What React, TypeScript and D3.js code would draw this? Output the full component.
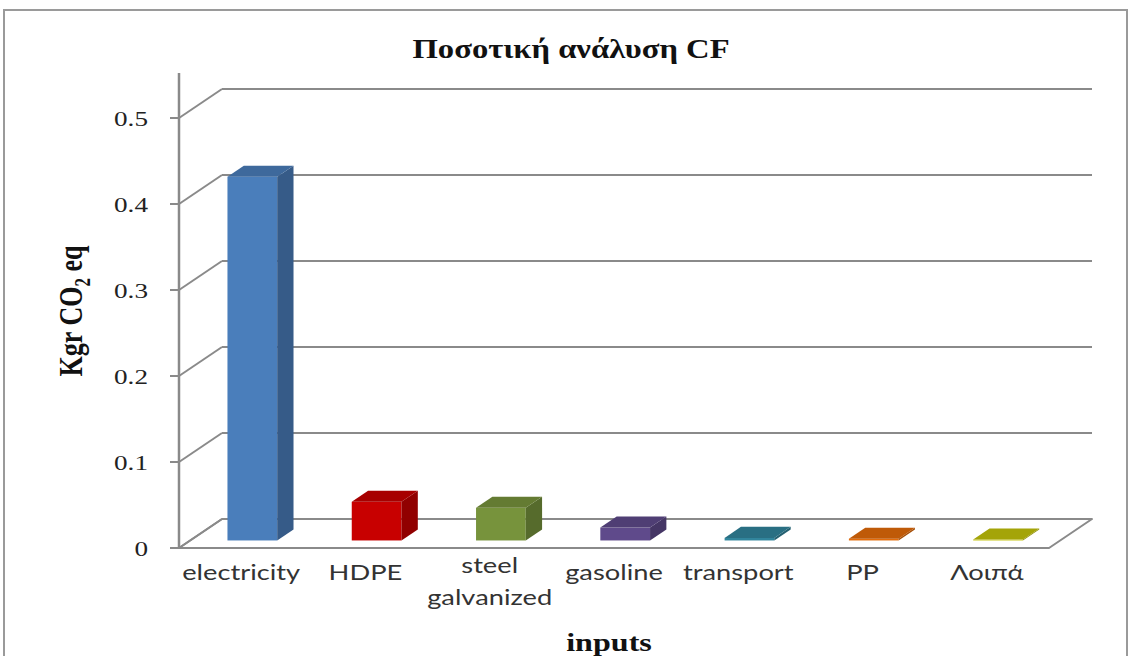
import React from "react";
import * as d3 from "d3";

const categories = ["electricity", "HDPE", "steel\ngalvanized", "gasoline", "transport", "PP", "Λοιπά"];
const values = [0.423, 0.045, 0.038, 0.015, 0.003, 0.002, 0.001];
const colors = ["#4a7ebb", "#c80000", "#77933c", "#5f4a8b", "#31859c", "#e46c0a", "#c4c40a"];
const yTicks = [0, 0.1, 0.2, 0.3, 0.4, 0.5];
const title = "Ποσοτική ανάλυση CF";
const xTitle = "inputs";

const W = 1131, H = 656;
const SX = 1.3; // horizontal text stretch of the reference
const X0 = 179, X1 = 1049;
const FX = 43, FY = -29; // floor depth vector
const T0 = 0.26, T1 = 0.64;
const GRID = "#8a8a8a";

export default function App() {
  const y = d3.scaleLinear().domain([0, 0.5]).range([548, 118]);
  const x = d3.scaleBand<string>().domain(categories).range([X0, X1]).paddingInner(0.6).paddingOuter(0.3);
  const bw = x.bandwidth();
  const ddx = (T1 - T0) * FX, ddy = (T1 - T0) * FY;
  const serif = "'Liberation Serif', 'Times New Roman', serif";
  const sans = "Lato, 'Open Sans', sans-serif";
  return (
    <svg width={W} height={H} style={{ position: "absolute", left: 0, top: 0, background: "#fff" }}>
      <rect x={4} y={10} width={1123} height={700} fill="#fff" stroke="#9a9a9a" strokeWidth={2} />
      {/* title */}
      <text transform={`translate(571,58) scale(${SX * 0.93},1)`} textAnchor="middle" fontFamily={serif} fontWeight="bold" fontSize={27} fill="#111">{title}</text>
      {/* floor */}
      <polygon points={`${X0},${y(0)} ${X1},${y(0)} ${X1 + FX},${y(0) + FY} ${X0 + FX},${y(0) + FY}`} fill="#fff" stroke={GRID} strokeWidth={2} strokeLinejoin="round" />
      {/* back wall gridlines + side diagonals */}
      {yTicks.map((t) => (
        <g key={t}>
          {t > 0 && <line x1={X0 + FX} x2={X1 + FX} y1={y(t) + FY} y2={y(t) + FY} stroke={GRID} strokeWidth={2} />}
          <line x1={X0} y1={y(t)} x2={X0 + FX} y2={y(t) + FY} stroke={GRID} strokeWidth={2} />
          <line x1={X0 - 9} x2={X0} y1={y(t)} y2={y(t)} stroke={GRID} strokeWidth={2} />
          <text transform={`translate(148,${y(t) + 8}) scale(${SX * 0.95},1)`} textAnchor="end" fontFamily={serif} fontSize={22} fill="#222">{t === 0 ? "0" : d3.format(".1f")(t)}</text>
        </g>
      ))}
      {/* y axis */}
      <line x1={X0} x2={X0} y1={y(0)} y2={73} stroke={GRID} strokeWidth={2.5} />
      {/* bars */}
      {categories.map((c, i) => {
        const xf = (x(c) as number) + T0 * FX;
        const yb = y(0) + T0 * FY;
        const yt = y(values[i]) + T0 * FY;
        const col = d3.color(colors[i])!;
        const side = col.darker(0.9).toString();
        const top = col.darker(0.5).toString();
        return (
          <g key={c}>
            <rect x={xf} y={yt} width={bw} height={yb - yt} fill={colors[i]} />
            <polygon points={`${xf + bw},${yb} ${xf + bw + ddx},${yb + ddy} ${xf + bw + ddx},${yt + ddy} ${xf + bw},${yt}`} fill={side} />
            <polygon points={`${xf},${yt} ${xf + bw},${yt} ${xf + bw + ddx},${yt + ddy} ${xf + ddx},${yt + ddy}`} fill={top} />
          </g>
        );
      })}
      {/* x labels */}
      {categories.map((c) => {
        const lines = c.split("\n");
        const cx = (x(c) as number) + bw / 2;
        const b0 = lines.length > 1 ? 573 : 580;
        return lines.map((ln, j) => (
          <text key={c + j} transform={`translate(${cx},${b0 + j * 32}) scale(${SX},1)`} textAnchor="middle" fontFamily={sans} fontSize={21} fill="#333">{ln}</text>
        ));
      })}
      {/* axis titles */}
      <text transform={`translate(609,651) scale(${SX * 0.95},1)`} textAnchor="middle" fontFamily={serif} fontWeight="bold" fontSize={26} fill="#111">{xTitle}</text>
      <text transform={`translate(82,311) scale(${SX},1) rotate(-90)`} textAnchor="middle" fontFamily={serif} fontWeight="bold" fontSize={26} fill="#111">
        Kgr CO<tspan fontSize={17} dy={6}>2</tspan><tspan dy={-6}> eq</tspan>
      </text>
    </svg>
  );
}
